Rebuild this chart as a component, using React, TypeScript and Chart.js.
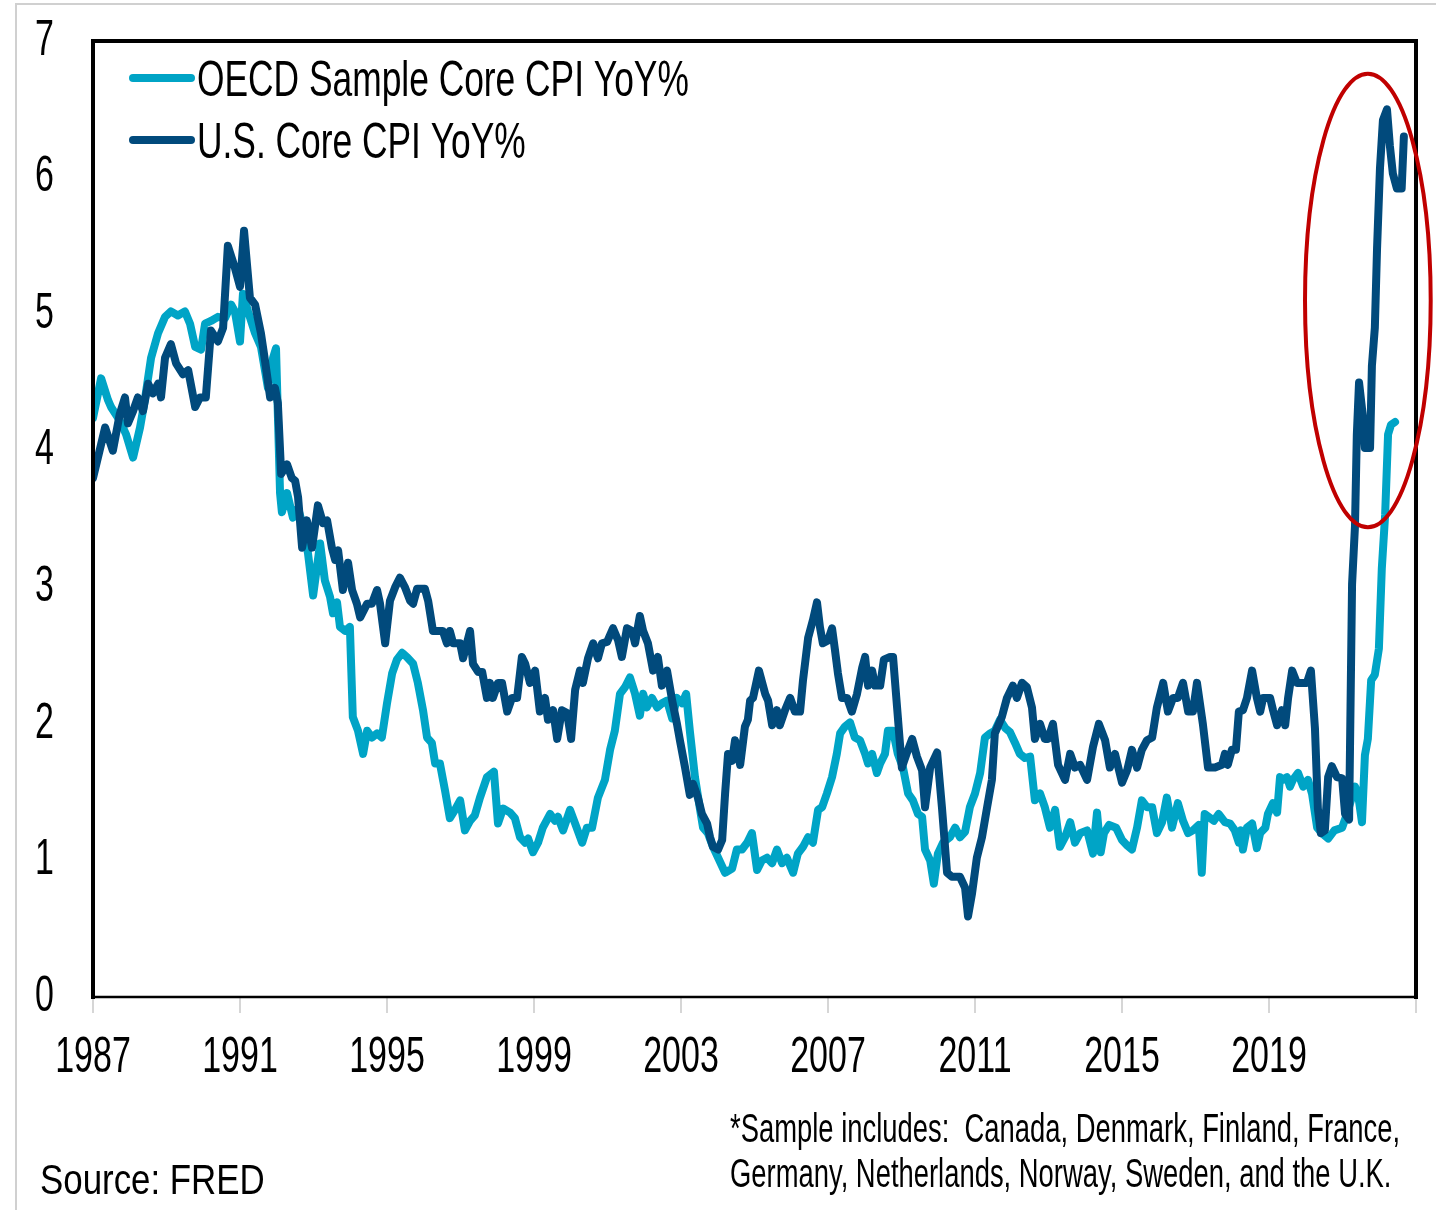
import React, { useEffect, useRef } from "react";
import { Chart, registerables, LinearScale } from "chart.js";

// ---------- data ----------
const seriesNames = ["OECD Sample Core CPI YoY%", "U.S. Core CPI YoY%"];

const oecdYears = [
  1987.0, 1987.22, 1987.41, 1987.49, 1987.73, 1987.9, 1988.09, 1988.28, 1988.41, 1988.58, 1988.77, 1988.96,
  1989.12, 1989.31, 1989.5, 1989.64, 1989.78, 1989.94, 1990.05, 1990.21, 1990.4, 1990.59, 1990.76, 1990.86,
  1991.0, 1991.08, 1991.22, 1991.41, 1991.57, 1991.76, 1991.9, 1991.98, 1992.09, 1992.14, 1992.28, 1992.44,
  1992.58, 1992.71, 1992.85, 1992.99, 1993.18, 1993.31, 1993.45, 1993.53, 1993.64, 1993.72, 1993.86, 1993.99,
  1994.07, 1994.21, 1994.35, 1994.46, 1994.59, 1994.73, 1994.86, 1995.0, 1995.14, 1995.27, 1995.41, 1995.54,
  1995.71, 1995.84, 1995.98, 1996.09, 1996.22, 1996.31, 1996.44, 1996.58, 1996.71, 1996.85, 1996.99, 1997.12,
  1997.26, 1997.39, 1997.53, 1997.72, 1997.91, 1998.02, 1998.16, 1998.35, 1998.48, 1998.62, 1998.76, 1998.84,
  1998.97, 1999.11, 1999.24, 1999.44, 1999.57, 1999.65, 1999.79, 1999.98, 2000.12, 2000.31, 2000.44, 2000.58,
  2000.74, 2000.93, 2001.07, 2001.2, 2001.34, 2001.48, 2001.61, 2001.75, 2001.88, 2001.97, 2002.07, 2002.21,
  2002.35, 2002.48, 2002.62, 2002.76, 2002.89, 2003.03, 2003.14, 2003.24, 2003.38, 2003.52, 2003.6, 2003.73,
  2003.87, 2004.01, 2004.2, 2004.39, 2004.52, 2004.66, 2004.8, 2004.93, 2005.07, 2005.2, 2005.34, 2005.48,
  2005.61, 2005.75, 2005.88, 2006.05, 2006.18, 2006.32, 2006.46, 2006.59, 2006.73, 2006.84, 2006.97, 2007.11,
  2007.24, 2007.33, 2007.46, 2007.6, 2007.73, 2007.87, 2008.01, 2008.09, 2008.2, 2008.33, 2008.42, 2008.55,
  2008.63, 2008.77, 2008.9, 2009.04, 2009.18, 2009.31, 2009.45, 2009.56, 2009.64, 2009.78, 2009.88, 2009.99,
  2010.13, 2010.32, 2010.46, 2010.59, 2010.73, 2010.86, 2011.0, 2011.14, 2011.27, 2011.41, 2011.54, 2011.68,
  2011.82, 2011.95, 2012.09, 2012.22, 2012.36, 2012.5, 2012.63, 2012.77, 2012.9, 2013.04, 2013.18, 2013.31,
  2013.45, 2013.59, 2013.72, 2013.86, 2014.05, 2014.21, 2014.32, 2014.42, 2014.51, 2014.65, 2014.84, 2015.0,
  2015.14, 2015.27, 2015.41, 2015.54, 2015.68, 2015.82, 2015.95, 2016.09, 2016.22, 2016.36, 2016.52, 2016.66,
  2016.8, 2016.93, 2017.09, 2017.17, 2017.25, 2017.5, 2017.63, 2017.8, 2017.94, 2018.07, 2018.18, 2018.24,
  2018.29, 2018.4, 2018.54, 2018.67, 2018.76, 2018.9, 2018.97, 2019.11, 2019.22, 2019.3, 2019.38, 2019.49,
  2019.57, 2019.65, 2019.79, 2019.93, 2020.06, 2020.17, 2020.31, 2020.44, 2020.61, 2020.78, 2020.99, 2021.12,
  2021.34, 2021.42, 2021.53, 2021.61, 2021.69, 2021.78, 2021.88, 2021.99, 2022.07, 2022.16, 2022.24, 2022.32,
  2022.43,
];
const oecdValues = [
  4.24, 4.53, 4.37, 4.32, 4.22, 4.12, 3.95, 4.17, 4.37, 4.68, 4.86, 4.98,
  5.02, 4.99, 5.02, 4.93, 4.76, 4.74, 4.93, 4.95, 4.98, 4.97, 5.07, 5.02,
  4.8, 5.15, 5.02, 4.86, 4.76, 4.46, 4.68, 4.75, 3.69, 3.55, 3.69, 3.51,
  3.58, 3.45, 3.25, 2.94, 3.32, 3.05, 2.93, 2.81, 2.89, 2.71, 2.68, 2.71,
  2.05, 1.95, 1.78, 1.95, 1.9, 1.93, 1.9, 2.15, 2.37, 2.47, 2.52, 2.49,
  2.44, 2.3, 2.1, 1.9, 1.86, 1.71, 1.71, 1.51, 1.31, 1.37, 1.44, 1.22,
  1.29, 1.33, 1.46, 1.61, 1.65, 1.27, 1.38, 1.35, 1.31, 1.17, 1.13, 1.16,
  1.06, 1.13, 1.24, 1.34, 1.29, 1.32, 1.22, 1.37, 1.27, 1.13, 1.24, 1.24,
  1.46, 1.59, 1.81, 1.95, 2.22, 2.27, 2.34, 2.22, 2.06, 2.22, 2.12, 2.19,
  2.12, 2.15, 2.17, 2.04, 2.19, 2.15, 2.22, 1.95, 1.61, 1.37, 1.24, 1.2,
  1.1, 1.02, 0.91, 0.94, 1.08, 1.08, 1.13, 1.2, 0.93, 1.0, 1.02, 0.98,
  1.08, 0.98, 1.02, 0.91, 1.05, 1.1, 1.17, 1.13, 1.37, 1.39, 1.49, 1.61,
  1.78, 1.93, 1.98, 2.01, 1.9, 1.88, 1.78, 1.71, 1.78, 1.64, 1.71, 1.78,
  1.95, 1.95, 1.78, 1.68, 1.49, 1.44, 1.34, 1.32, 1.08, 1.0, 0.83, 1.05,
  1.13, 1.17, 1.24, 1.17, 1.21, 1.39, 1.49, 1.64, 1.9, 1.93, 1.95, 2.03,
  1.97, 1.94, 1.86, 1.78, 1.75, 1.76, 1.44, 1.49, 1.39, 1.24, 1.37, 1.1,
  1.17, 1.28, 1.13, 1.2, 1.22, 1.05, 1.35, 1.06, 1.2, 1.26, 1.24, 1.15,
  1.11, 1.08, 1.24, 1.44, 1.39, 1.39, 1.2, 1.28, 1.46, 1.24, 1.42, 1.29,
  1.2, 1.22, 1.26, 0.91, 1.34, 1.29, 1.34, 1.28, 1.27, 1.22, 1.13, 1.22,
  1.08, 1.24, 1.27, 1.09, 1.2, 1.24, 1.34, 1.42, 1.35, 1.61, 1.59, 1.61,
  1.54, 1.59, 1.64, 1.54, 1.59, 1.49, 1.24, 1.2, 1.16, 1.22, 1.24, 1.34,
  1.54, 1.49, 1.28, 1.77, 1.89, 2.32, 2.36, 2.55, 3.14, 3.53, 4.12, 4.19,
  4.21,
];

const usYears = [
  1987.0, 1987.33, 1987.54, 1987.73, 1987.87, 1987.95, 1988.09, 1988.22, 1988.36, 1988.5, 1988.63, 1988.77,
  1988.85, 1988.96, 1989.12, 1989.26, 1989.45, 1989.59, 1989.78, 1989.91, 1990.07, 1990.21, 1990.4, 1990.54,
  1990.67, 1990.86, 1991.0, 1991.11, 1991.27, 1991.41, 1991.57, 1991.68, 1991.82, 1991.95, 1992.03, 1992.12,
  1992.28, 1992.41, 1992.5, 1992.58, 1992.69, 1992.82, 1992.96, 1993.12, 1993.26, 1993.37, 1993.5, 1993.59,
  1993.67, 1993.8, 1993.94, 1994.05, 1994.18, 1994.27, 1994.46, 1994.59, 1994.73, 1994.81, 1994.95, 1995.08,
  1995.22, 1995.35, 1995.49, 1995.63, 1995.71, 1995.82, 1996.03, 1996.12, 1996.25, 1996.52, 1996.63, 1996.71,
  1996.8, 1996.99, 1997.07, 1997.26, 1997.34, 1997.48, 1997.59, 1997.72, 1997.8, 1997.88, 1998.02, 1998.13,
  1998.27, 1998.4, 1998.54, 1998.67, 1998.76, 1998.89, 1999.03, 1999.16, 1999.3, 1999.38, 1999.52, 1999.63,
  1999.76, 1999.9, 2000.01, 2000.12, 2000.25, 2000.33, 2000.47, 2000.61, 2000.74, 2000.85, 2000.99, 2001.15,
  2001.29, 2001.39, 2001.53, 2001.67, 2001.75, 2001.88, 2001.97, 2002.1, 2002.24, 2002.37, 2002.48, 2002.62,
  2002.76, 2002.89, 2002.97, 2003.11, 2003.24, 2003.33, 2003.46, 2003.57, 2003.71, 2003.79, 2003.87, 2004.01,
  2004.12, 2004.2, 2004.28, 2004.39, 2004.47, 2004.61, 2004.74, 2004.82, 2004.88, 2004.96, 2005.12, 2005.29,
  2005.37, 2005.48, 2005.61, 2005.69, 2005.83, 2005.97, 2006.1, 2006.24, 2006.32, 2006.46, 2006.59, 2006.7,
  2006.78, 2006.86, 2007.0, 2007.11, 2007.19, 2007.27, 2007.38, 2007.52, 2007.65, 2007.79, 2007.93, 2008.01,
  2008.09, 2008.2, 2008.28, 2008.42, 2008.52, 2008.69, 2008.77, 2008.88, 2009.01, 2009.15, 2009.29, 2009.42,
  2009.56, 2009.64, 2009.78, 2009.97, 2010.1, 2010.24, 2010.37, 2010.59, 2010.73, 2010.81, 2010.92, 2011.05,
  2011.19, 2011.33, 2011.46, 2011.54, 2011.73, 2011.87, 2012.03, 2012.14, 2012.28, 2012.41, 2012.55, 2012.63,
  2012.77, 2012.9, 2012.99, 2013.12, 2013.26, 2013.45, 2013.59, 2013.72, 2013.86, 2014.05, 2014.21, 2014.37,
  2014.54, 2014.67, 2014.81, 2015.0, 2015.14, 2015.27, 2015.41, 2015.54, 2015.68, 2015.82, 2015.95, 2016.12,
  2016.25, 2016.39, 2016.52, 2016.66, 2016.8, 2016.93, 2017.04, 2017.2, 2017.34, 2017.53, 2017.72, 2017.8,
  2017.88, 2017.99, 2018.1, 2018.18, 2018.29, 2018.4, 2018.54, 2018.67, 2018.76, 2018.84, 2019.03, 2019.11,
  2019.22, 2019.35, 2019.44, 2019.52, 2019.63, 2019.76, 2019.93, 2020.03, 2020.14, 2020.25, 2020.33, 2020.41,
  2020.52, 2020.61, 2020.71, 2020.85, 2020.99, 2021.07, 2021.18, 2021.26, 2021.34, 2021.39, 2021.45, 2021.56,
  2021.61, 2021.75, 2021.8, 2021.88, 2021.94, 2022.02, 2022.1, 2022.21, 2022.29, 2022.37, 2022.48, 2022.61,
  2022.67,
];
const usValues = [
  3.8, 4.17, 4.0, 4.27, 4.39, 4.2, 4.29, 4.39, 4.29, 4.49, 4.42, 4.49,
  4.39, 4.68, 4.78, 4.64, 4.56, 4.59, 4.32, 4.39, 4.39, 4.88, 4.8, 4.9,
  5.5, 5.34, 5.2, 5.61, 5.12, 5.07, 4.86, 4.66, 4.39, 4.46, 4.35, 3.83,
  3.9, 3.8, 3.78, 3.66, 3.29, 3.49, 3.29, 3.6, 3.47, 3.49, 3.29, 3.2,
  3.27, 2.98, 3.18, 2.98, 2.88, 2.78, 2.88, 2.88, 2.98, 2.88, 2.59, 2.9,
  3.0, 3.07, 3.0, 2.9, 2.88, 2.99, 2.99, 2.9, 2.68, 2.68, 2.59, 2.68,
  2.59, 2.59, 2.48, 2.68, 2.44, 2.38, 2.38, 2.19, 2.3, 2.19, 2.3, 2.3,
  2.09, 2.19, 2.19, 2.49, 2.44, 2.3, 2.39, 2.09, 2.19, 2.03, 2.1, 1.89,
  2.1, 2.08, 1.89, 2.25, 2.39, 2.3, 2.48, 2.59, 2.48, 2.59, 2.6, 2.7,
  2.61, 2.49, 2.7, 2.68, 2.59, 2.79, 2.68, 2.59, 2.39, 2.49, 2.28, 2.39,
  2.17, 2.0, 1.88, 1.68, 1.48, 1.56, 1.46, 1.34, 1.27, 1.17, 1.1, 1.08,
  1.15, 1.49, 1.78, 1.73, 1.88, 1.7, 1.98, 2.03, 2.17, 2.19, 2.39, 2.22,
  2.17, 1.99, 2.1, 1.99, 2.1, 2.19, 2.09, 2.09, 2.32, 2.63, 2.76, 2.89,
  2.71, 2.59, 2.61, 2.7, 2.54, 2.37, 2.19, 2.19, 2.09, 2.22, 2.41, 2.49,
  2.28, 2.39, 2.28, 2.28, 2.47, 2.49, 2.49, 2.12, 1.68, 1.79, 1.89, 1.76,
  1.66, 1.39, 1.68, 1.79, 1.39, 0.91, 0.88, 0.88, 0.8, 0.59, 0.76, 1.02,
  1.17, 1.39, 1.59, 1.93, 2.05, 2.19, 2.28, 2.19, 2.3, 2.27, 2.12, 1.89,
  2.0, 1.89, 1.89, 2.0, 1.7, 1.59, 1.78, 1.68, 1.7, 1.59, 1.83, 2.0,
  1.88, 1.68, 1.78, 1.57, 1.66, 1.81, 1.68, 1.81, 1.88, 1.9, 2.12, 2.3,
  2.09, 2.19, 2.19, 2.3, 2.09, 2.09, 2.3, 2.0, 1.68, 1.68, 1.7, 1.78,
  1.7, 1.81, 1.81, 2.09, 2.1, 2.19, 2.39, 2.19, 2.09, 2.19, 2.19, 2.1,
  1.99, 2.1, 1.99, 2.19, 2.39, 2.3, 2.3, 2.3, 2.39, 1.97, 1.38, 1.2,
  1.22, 1.61, 1.69, 1.61, 1.6, 1.34, 1.3, 3.02, 3.45, 4.12, 4.5, 4.24,
  4.02, 4.02, 4.62, 4.9, 5.48, 6.07, 6.42, 6.5, 6.23, 6.03, 5.92, 5.92,
  6.3,
];

const xTickYears = [1987, 1991, 1995, 1999, 2003, 2007, 2011, 2015, 2019, 2023];
const xRange = [1987, 2023];
const yRange = [0, 7];
const sourceText = "Source: FRED";
const footnoteLines = [
  "*Sample includes:  Canada, Denmark, Finland, France,",
  "Germany, Netherlands, Norway, Sweden, and the U.K.",
];
// highlight ellipse, in data units: centre year, centre value, half-width (years), half-height (pct points)
const highlightEllipse = [2021.69, 5.1, 1.71, 1.66];

// ---------- styling ----------
const COLORS = ["#00a4c6", "#014a7c"];
const SANS = '"Liberation Sans", Arial, sans-serif';
const LABEL_SQUEEZE = 0.68;

// A linear scale whose tick labels are drawn horizontally condensed (narrow-font look).
class CondensedLinearScale extends (LinearScale as any) {
  drawLabels(chartArea: any) {
    const ctx = (this as any).ctx;
    const items = (this as any).getLabelItems(chartArea);
    for (const item of items) {
      const { options, font, label, textOffset } = item;
      const [tx, ty] = options.translation;
      ctx.save();
      ctx.translate(tx, ty);
      ctx.scale(LABEL_SQUEEZE, 1);
      ctx.font = font.string;
      ctx.fillStyle = options.color;
      ctx.textAlign = options.textAlign;
      ctx.textBaseline = options.textBaseline;
      const lines = Array.isArray(label) ? label : [label];
      lines.forEach((l: string, i: number) => {
        ctx.fillText(String(l), 0, textOffset + i * font.lineHeight);
      });
      ctx.restore();
    }
  }
}
(CondensedLinearScale as any).id = "condensedLinear";
(CondensedLinearScale as any).defaults = (LinearScale as any).defaults;

Chart.register(...registerables, CondensedLinearScale as any);

const decorPlugin = {
  id: "decor",
  afterDatasetsDraw(chart: any) {
    const { ctx, chartArea: a } = chart;
    ctx.save();
    ctx.strokeStyle = "#000";
    ctx.lineWidth = 4;
    ctx.lineCap = "square";
    ctx.beginPath();
    ctx.moveTo(a.left, a.bottom);
    ctx.lineTo(a.left, a.top);
    ctx.lineTo(a.right, a.top);
    ctx.lineTo(a.right, a.bottom);
    ctx.stroke();
    ctx.lineWidth = 2.5;
    ctx.beginPath();
    ctx.moveTo(a.left, a.bottom);
    ctx.lineTo(a.right, a.bottom);
    ctx.stroke();
    ctx.restore();
  },
  afterDraw(chart: any) {
    const { ctx } = chart;
    const xs = chart.scales.x;
    const ys = chart.scales.y;
    // legend inside the plot frame
    ctx.save();
    const rows = [78, 140];
    seriesNames.forEach((name, i) => {
      const yc = rows[i];
      ctx.strokeStyle = COLORS[i];
      ctx.lineWidth = 8;
      ctx.lineCap = "round";
      ctx.beginPath();
      ctx.moveTo(133, yc);
      ctx.lineTo(191, yc);
      ctx.stroke();
      ctx.save();
      ctx.fillStyle = "#000";
      ctx.font = `50px ${SANS}`;
      ctx.textBaseline = "alphabetic";
      ctx.translate(197, yc + 18);
      ctx.scale(0.707, 1);
      ctx.fillText(name, 0, 0);
      ctx.restore();
    });
    ctx.restore();
    // red highlight ellipse
    const [ex, ey, erx, ery] = highlightEllipse;
    const cx = xs.getPixelForValue(ex);
    const cy = ys.getPixelForValue(ey);
    const rx = Math.abs(xs.getPixelForValue(ex + erx) - cx);
    const ry = Math.abs(ys.getPixelForValue(ey + ery) - cy);
    ctx.save();
    ctx.strokeStyle = "#c00000";
    ctx.lineWidth = 4;
    ctx.beginPath();
    ctx.ellipse(cx, cy, rx, ry, 0, 0, Math.PI * 2);
    ctx.stroke();
    ctx.restore();
  },
};

export default function App() {
  const canvasRef = useRef<HTMLCanvasElement | null>(null);

  useEffect(() => {
    const canvas = canvasRef.current;
    if (!canvas) return;
    const chart = new Chart(canvas, {
      type: "line",
      data: {
        datasets: [
          {
            label: seriesNames[0],
            data: oecdYears.map((x, i) => ({ x, y: oecdValues[i] })),
            borderColor: COLORS[0],
            borderWidth: 8,
            pointRadius: 0,
            tension: 0,
            borderJoinStyle: "round",
            borderCapStyle: "round",
            order: 2,
          },
          {
            label: seriesNames[1],
            data: usYears.map((x, i) => ({ x, y: usValues[i] })),
            borderColor: COLORS[1],
            borderWidth: 8,
            pointRadius: 0,
            tension: 0,
            borderJoinStyle: "round",
            borderCapStyle: "round",
            order: 1,
          },
        ],
      },
      options: {
        animation: false,
        responsive: false,
        devicePixelRatio: 1,
        events: [],
        layout: { padding: { top: 41, right: 20, left: 0, bottom: 0 } },
        plugins: {
          legend: { display: false },
          tooltip: { enabled: false },
        },
        scales: {
          x: {
            type: "condensedLinear",
            axis: "x",
            position: "bottom",
            min: xRange[0],
            max: xRange[1],
            afterBuildTicks: (axis: any) => {
              axis.ticks = xTickYears.map((v) => ({ value: v }));
            },
            afterFit: (axis: any) => {
              axis.height = 213;
              axis.paddingLeft = 0;
              axis.paddingRight = 0;
            },
            ticks: {
              autoSkip: false,
              maxRotation: 0,
              color: "#000",
              padding: 15,
              font: { family: SANS, size: 50 },
              callback: (v: any) => (v === xRange[1] ? "" : String(v)),
            },
            grid: {
              display: true,
              drawOnChartArea: false,
              drawTicks: true,
              tickLength: 16,
              color: "#d6d6d6",
              lineWidth: 2,
            },
            border: { display: false },
          },
          y: {
            type: "condensedLinear",
            axis: "y",
            position: "left",
            min: yRange[0],
            max: yRange[1],
            afterFit: (axis: any) => {
              axis.width = 93;
              axis.paddingTop = 0;
              axis.paddingBottom = 0;
            },
            ticks: {
              stepSize: 1,
              color: "#000",
              padding: 39,
              font: { family: SANS, size: 50 },
            },
            grid: { display: false, drawTicks: false },
            border: { display: false },
          },
        },
      },
      plugins: [decorPlugin],
    } as any);
    return () => chart.destroy();
  }, []);

  return (
    <div
      style={{
        position: "absolute",
        left: 0,
        top: 0,
        width: 1436,
        height: 1210,
        background: "#fff",
        overflow: "hidden",
      }}
    >
      <div
        style={{
          position: "absolute",
          left: 15,
          top: 3,
          right: 0,
          bottom: 0,
          borderTop: "2px solid #d0d0d0",
          borderLeft: "2px solid #d0d0d0",
        }}
      />
      <canvas
        ref={canvasRef}
        width={1436}
        height={1210}
        style={{ position: "absolute", left: 0, top: 0, width: 1436, height: 1210 }}
      />
      <div
        style={{
          position: "absolute",
          left: 40,
          top: 1159,
          fontFamily: SANS,
          fontSize: 42,
          lineHeight: "42px",
          whiteSpace: "pre",
          color: "#000",
          transform: "scaleX(0.83)",
          transformOrigin: "left top",
        }}
      >
        {sourceText}
      </div>
      <div
        style={{
          position: "absolute",
          left: 730,
          top: 1106,
          fontFamily: SANS,
          fontSize: 40,
          lineHeight: "45px",
          whiteSpace: "pre",
          color: "#000",
          transform: "scaleX(0.685)",
          transformOrigin: "left top",
        }}
      >
        {footnoteLines.map((l, i) => (
          <div key={i}>{l}</div>
        ))}
      </div>
    </div>
  );
}
